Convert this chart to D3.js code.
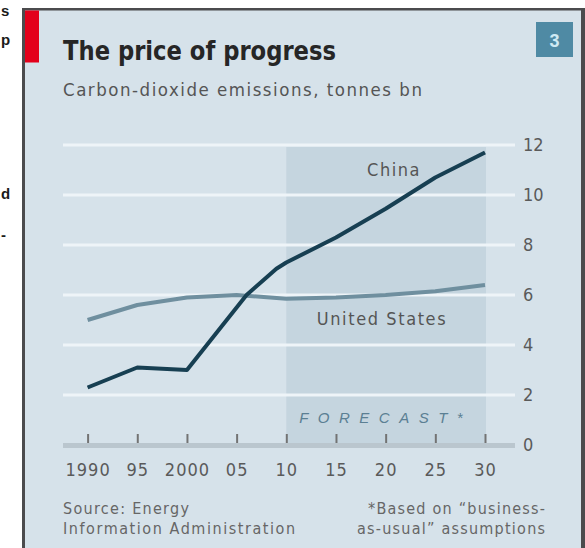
<!DOCTYPE html>
<html>
<head>
<meta charset="utf-8">
<script src="https://cdn.jsdelivr.net/npm/d3@7"></script>
<style>
  html, body { margin: 0; padding: 0; background: #ffffff; }
  svg { display: block; }
</style>
</head>
<body>
<svg id="chart" width="585" height="548"></svg>
<script>
// ---------------- data ----------------
const chinaYears  = [1990, 1995, 2000, 2006, 2008, 2009, 2010, 2015, 2020, 2025, 2030];
const chinaValues = [2.3,  3.1,  3.0,  6.0,  6.7,  7.05, 7.3,  8.3,  9.45, 10.7, 11.7];
const usYears  = [1990, 1995, 2000, 2005, 2010, 2015, 2020, 2025, 2030];
const usValues = [5.0,  5.6,  5.9,  6.0,  5.85, 5.9,  6.0,  6.15, 6.4];
const xTickYears  = [1990, 1995, 2000, 2005, 2010, 2015, 2020, 2025, 2030];
const xTickLabels = ["1990", "95", "2000", "05", "10", "15", "20", "25", "30"];
const yTickValues = [0, 2, 4, 6, 8, 10, 12];
const forecastSpan = [2010, 2030];
const titleText = "The price of progress";
const subtitleText = "Carbon-dioxide emissions, tonnes bn";
const sourceLines = ["Source: Energy", "Information Administration"];
const noteLines = ["*Based on \u201cbusiness-", "as-usual\u201d assumptions"];
const chartNumber = "3";
const neighbourFragments = ["s", "p", "d", "-"];

// ---------------- drawing ----------------
const svg = d3.select("#chart");
const W = 585, H = 548;

const x = d3.scaleLinear().domain([1990, 2030]).range([87.6, 485]);
const y = d3.scaleLinear().domain([0, 12]).range([445, 145]);

const sans = "'Liberation Sans', Arial, sans-serif";
const narrow = "'DejaVu Sans Condensed', 'Liberation Sans', sans-serif";

// neighbouring column fragments (left margin)
const fragY = [16, 45, 199, 240];
svg.append("g").attr("font-family", sans).attr("font-size", 15).attr("font-weight", "bold")
  .attr("fill", "#1a1a1a")
  .selectAll("text").data(neighbourFragments).join("text")
  .attr("x", 1).attr("y", (d, i) => fragY[i]).text(d => d);

// panel
svg.append("rect").attr("x", 22).attr("y", 8).attr("width", W - 22).attr("height", H - 8)
  .attr("fill", "#d6e2ea");
// borders
svg.append("rect").attr("x", 22).attr("y", 8).attr("width", W - 22).attr("height", 2.5).attr("fill", "#4b4b4d");
svg.append("rect").attr("x", 22).attr("y", 8).attr("width", 3).attr("height", H - 8).attr("fill", "#4b4b4d");
svg.append("rect").attr("x", 581).attr("y", 8).attr("width", 4).attr("height", H - 8).attr("fill", "#4b4b4d");
// red tab
svg.append("rect").attr("x", 25).attr("y", 10.5).attr("width", 14).attr("height", 52).attr("fill", "#e3001b");

// title & subtitle
svg.append("text").attr("x", 63).attr("y", 60)
  .attr("font-family", narrow).attr("font-weight", "bold").attr("font-size", 27)
  .attr("textLength", 273).attr("lengthAdjust", "spacingAndGlyphs")
  .attr("fill", "#262626").text(titleText);
svg.append("text").attr("x", 63).attr("y", 96)
  .attr("font-family", narrow).attr("font-size", 18.5)
  .attr("textLength", 359).attr("lengthAdjust", "spacing")
  .attr("fill", "#555").text(subtitleText);

// number box
svg.append("rect").attr("x", 536).attr("y", 22).attr("width", 37).attr("height", 35).attr("fill", "#4f8aa4");
svg.append("text").attr("x", 554.5).attr("y", 46.5).attr("text-anchor", "middle")
  .attr("font-family", sans).attr("font-weight", "bold").attr("font-size", 18)
  .attr("fill", "#cfe9f3").text(chartNumber);

// forecast shading
svg.append("rect")
  .attr("x", x(forecastSpan[0])).attr("y", y(12) + 2)
  .attr("width", x(forecastSpan[1]) - x(forecastSpan[0]) + 1)
  .attr("height", y(0) - y(12) - 2)
  .attr("fill", "#c5d5df");

// gridlines
svg.append("g").selectAll("line")
  .data(yTickValues.filter(d => d > 0))
  .join("line")
  .attr("x1", 63).attr("x2", 515)
  .attr("y1", d => y(d)).attr("y2", d => y(d))
  .attr("stroke", "#eef4f8").attr("stroke-width", 3);

// zero line
svg.append("line").attr("x1", 63).attr("x2", 515).attr("y1", y(0) + 0.5).attr("y2", y(0) + 0.5)
  .attr("stroke", "#bac6ce").attr("stroke-width", 5);

// y axis labels (right)
const yAxis = d3.axisRight(y).tickValues(yTickValues).tickSize(0).tickPadding(0);
const gy = svg.append("g").attr("transform", "translate(523,0)").call(yAxis);
gy.select(".domain").remove();
gy.selectAll("text").attr("font-family", narrow).attr("font-size", 18).attr("fill", "#5a5a5a");

// x axis
const xAxis = d3.axisBottom(x).tickValues(xTickYears)
  .tickFormat((d, i) => xTickLabels[i]).tickSize(-9).tickPadding(20);
const gx = svg.append("g").attr("transform", `translate(0,${y(0) - 2})`).call(xAxis);
gx.select(".domain").remove();
gx.selectAll("line").attr("stroke", "#737373").attr("stroke-width", 2);
gx.selectAll("text").attr("font-family", narrow).attr("font-size", 18)
  .attr("fill", "#5a5a5a").attr("letter-spacing", 1);

// FORECAST label
svg.append("text").attr("x", x(2020)).attr("y", 423).attr("text-anchor", "middle")
  .attr("font-family", sans).attr("font-style", "italic").attr("font-size", 15)
  .attr("letter-spacing", 9.5).attr("fill", "#5b7f93").text("FORECAST*");

// lines
const line = d3.line().x(d => x(d[0])).y(d => y(d[1]));
svg.append("path").datum(usYears.map((d, i) => [d, usValues[i]]))
  .attr("d", line).attr("fill", "none").attr("stroke", "#6f8f9f")
  .attr("stroke-width", 4).attr("stroke-linejoin", "round");
svg.append("path").datum(chinaYears.map((d, i) => [d, chinaValues[i]]))
  .attr("d", line)
  .attr("fill", "none").attr("stroke", "#173f52")
  .attr("stroke-width", 4).attr("stroke-linejoin", "round");

// series labels
svg.append("text").attr("x", 394).attr("y", 176).attr("text-anchor", "middle")
  .attr("font-family", narrow).attr("font-size", 18).attr("letter-spacing", 1.5)
  .attr("fill", "#555").text("China");
svg.append("text").attr("x", 382).attr("y", 325).attr("text-anchor", "middle")
  .attr("font-family", narrow).attr("font-size", 18).attr("letter-spacing", 1.6)
  .attr("fill", "#555").text("United States");

// footer
const foot = svg.append("g").attr("font-family", narrow).attr("font-size", 16).attr("fill", "#666");
const srcLen = [126, 232], noteLen = [177, 188];
sourceLines.forEach((t, i) => foot.append("text").attr("x", 63).attr("y", 514 + i * 20)
  .attr("textLength", srcLen[i]).attr("lengthAdjust", "spacing").text(t));
noteLines.forEach((t, i) => foot.append("text").attr("x", 545 - noteLen[i]).attr("y", 514 + i * 20)
  .attr("textLength", noteLen[i]).attr("lengthAdjust", "spacing").text(t));
</script>
</body>
</html>
